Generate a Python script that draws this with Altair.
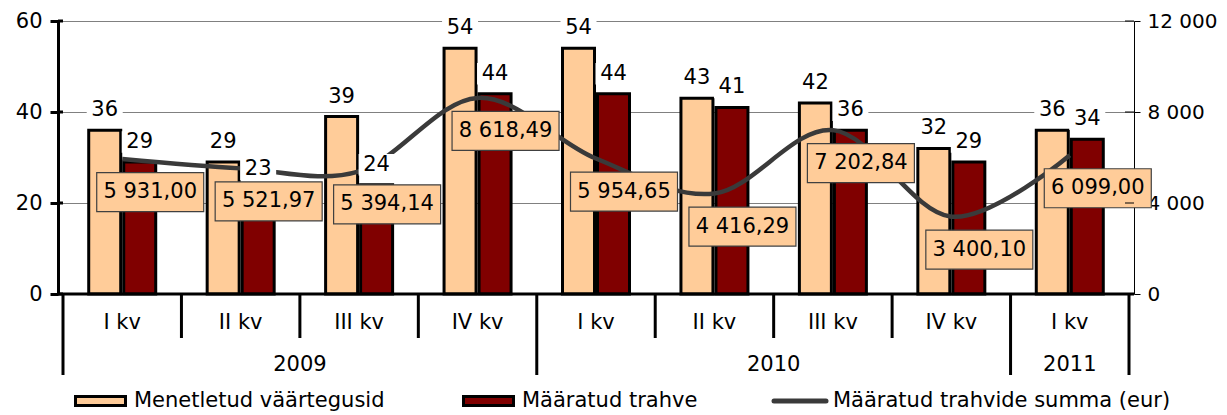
import altair as alt
import pandas as pd

# ---------------- data ----------------
quarters = ["I kv", "II kv", "III kv", "IV kv", "I kv", "II kv", "III kv", "IV kv", "I kv"]
years = ["2009", "2009", "2009", "2009", "2010", "2010", "2010", "2010", "2011"]
menetletud = [36, 29, 39, 54, 54, 43, 42, 32, 36]
maaratud = [29, 23, 24, 44, 44, 41, 36, 29, 34]
summa = [5931.00, 5521.97, 5394.14, 8618.49, 5954.65, 4416.29, 7202.84, 3400.10, 6099.00]
series_names = ["Menetletud väärtegusid", "Määratud trahve", "Määratud trahvide summa (eur)"]
left_ticks = [0, 20, 40, 60]
right_ticks = [0, 4000, 8000, 12000]

# ---------------- styling ----------------
W, H = 1076, 273
PEACH = "#FFCC99"
DARKRED = "#800000"
LINEC = "#3a3a3a"
FONT = "DejaVu Sans"
FS = 21

n = len(quarters)
df = pd.DataFrame({
    "idx": list(range(n)),
    "quarter": quarters,
    "year": years,
    "men": menetletud,
    "maa": maaratud,
    "sum": summa,
})
df["center"] = df["idx"] + 0.5
df["sum_label"] = [f"{v:,.2f}".replace(",", " ").replace(".", ",") for v in summa]

bounds_short, bounds_long = [], []
for b in range(n + 1):
    if b == 0 or b == n or years[b] != years[b - 1]:
        bounds_long.append({"pos": b})
    else:
        bounds_short.append({"pos": b})

year_rows = []
for y in dict.fromkeys(years):
    idxs = [i for i, v in enumerate(years) if v == y]
    year_rows.append({"year": y, "center": (min(idxs) + max(idxs) + 1) / 2})
year_df = pd.DataFrame(year_rows)

xscale = alt.Scale(domain=[0, n], nice=False, zero=False)
yl_scale = alt.Scale(domain=[0, 60], nice=False)
yr_scale = alt.Scale(domain=[0, 12000], nice=False)


def X(field):
    return alt.X(field, scale=xscale, axis=None)


base = alt.Chart(df)
one = alt.Data(values=[{"a": 1}])

RECT_SMALL = "M-1,-0.6L1,-0.6L1,0.6L-1,0.6Z"
RECT_BOX = "M-1,-0.3645L1,-0.3645L1,0.3645L-1,0.3645Z"

bars_men = base.mark_bar(size=32, xOffset=-17.5, fill=PEACH, stroke="black",
                         strokeWidth=3, orient="vertical").encode(
    x=X("center:Q"),
    y=alt.Y("men:Q", scale=yl_scale,
            axis=alt.Axis(orient="left", values=left_ticks, grid=True, gridColor="#808080",
                          gridWidth=1, domainColor="black", domainWidth=3, tickColor="black",
                          tickWidth=3, tickSize=8, labelFont=FONT, labelFontSize=FS,
                          labelColor="black", labelPadding=8, title=None)),
)
bars_maa = base.mark_bar(size=32, xOffset=17.5, fill=DARKRED, stroke="black",
                         strokeWidth=3, orient="vertical").encode(
    x=X("center:Q"),
    y=alt.Y("maa:Q", scale=yl_scale, axis=None),
)

line = base.mark_line(interpolate="cardinal", color=LINEC, strokeWidth=4.5).encode(
    x=X("center:Q"),
    y=alt.Y("sum:Q", scale=yr_scale,
            axis=alt.Axis(orient="right", values=right_ticks,
                          labelExpr="replace(format(datum.value, ','), ',', ' ')",
                          grid=False, domainColor="black", domainWidth=1, tickColor="black",
                          tickWidth=1, tickSize=6, labelFont=FONT, labelFontSize=20,
                          labelColor="black", labelPadding=7, title=None)),
)

def bar_labels(field, off):
    box = base.mark_point(shape=RECT_SMALL, size=36 ** 2, filled=True, fill="white",
                          strokeOpacity=0, opacity=1, xOffset=off, yOffset=-20).encode(
        x=X("center:Q"), y=alt.Y(f"{field}:Q", scale=yl_scale, axis=None))
    txt = base.mark_text(font=FONT, fontSize=21, color="black", baseline="middle",
                         dx=off, dy=-20).encode(
        x=X("center:Q"), y=alt.Y(f"{field}:Q", scale=yl_scale, axis=None),
        text=alt.Text(f"{field}:Q"))
    return [box, txt]

DX, DY = 28, 33
sum_box = base.mark_point(shape=RECT_BOX, size=107 ** 2, filled=True, fill=PEACH,
                          stroke="#404040", strokeWidth=1.2, opacity=1,
                          xOffset=DX, yOffset=DY).encode(
    x=X("center:Q"), y=alt.Y("sum:Q", scale=yr_scale, axis=None))
sum_txt = base.mark_text(font=FONT, fontSize=21, color="black", baseline="middle",
                         dx=DX, dy=DY).encode(
    x=X("center:Q"), y=alt.Y("sum:Q", scale=yr_scale, axis=None), text="sum_label:N")

# axis helpers
x_axis_line = alt.Chart(one).mark_rule(color="black", strokeWidth=3).encode(
    x=alt.value(0), x2=alt.value(W), y=alt.value(H))
left_inner = alt.Chart(pd.DataFrame({"v": left_ticks})).mark_rule(color="black", strokeWidth=3).encode(
    y=alt.Y("v:Q", scale=yl_scale, axis=None), x=alt.value(0), x2=alt.value(5))
right_inner = alt.Chart(pd.DataFrame({"v": right_ticks})).mark_rule(color="black", strokeWidth=1).encode(
    y=alt.Y("v:Q", scale=yr_scale, axis=None), x=alt.value(W - 9), x2=alt.value(W))

sep_short = alt.Chart(pd.DataFrame(bounds_short)).mark_rule(color="black", strokeWidth=3).encode(
    x=X("pos:Q"), y=alt.value(H), y2=alt.value(H + 44))
sep_long = alt.Chart(pd.DataFrame(bounds_long)).mark_rule(color="black", strokeWidth=3).encode(
    x=X("pos:Q"), y=alt.value(H), y2=alt.value(H + 81))

q_labels = base.mark_text(font=FONT, fontSize=FS, color="black", baseline="middle").encode(
    x=X("center:Q"), y=alt.value(H + 29), text="quarter:N")
y_labels = alt.Chart(year_df).mark_text(font=FONT, fontSize=FS, color="black", baseline="middle").encode(
    x=X("center:Q"), y=alt.value(H + 71), text="year:N")

# legend
LY = 380
leg = [
    alt.Chart(one).mark_rect(fill=PEACH, stroke="black", strokeWidth=3).encode(
        x=alt.value(17.5), x2=alt.value(67.5), y=alt.value(LY - 4.5), y2=alt.value(LY + 4.5)),
    alt.Chart(one).mark_text(font=FONT, fontSize=FS, color="black", align="left", baseline="middle").encode(
        x=alt.value(76), y=alt.value(LY), text=alt.value(series_names[0])),
    alt.Chart(one).mark_rect(fill=DARKRED, stroke="black", strokeWidth=3).encode(
        x=alt.value(405.5), x2=alt.value(455.5), y=alt.value(LY - 4.5), y2=alt.value(LY + 4.5)),
    alt.Chart(one).mark_text(font=FONT, fontSize=FS, color="black", align="left", baseline="middle").encode(
        x=alt.value(464), y=alt.value(LY), text=alt.value(series_names[1])),
    alt.Chart(one).mark_rule(color=LINEC, strokeWidth=5, strokeCap="round").encode(
        x=alt.value(716), x2=alt.value(768), y=alt.value(LY)),
    alt.Chart(one).mark_text(font=FONT, fontSize=FS, color="black", align="left", baseline="middle").encode(
        x=alt.value(775), y=alt.value(LY), text=alt.value(series_names[2])),
]

layers = [bars_men, bars_maa, line] + bar_labels("men", -17.5) + bar_labels("maa", 17.5) + \
    [sum_box, sum_txt, x_axis_line, left_inner, right_inner, sep_short, sep_long,
     q_labels, y_labels] + leg

chart = alt.layer(*layers).resolve_scale(y="independent").properties(
    width=W, height=H,
    padding={"left": 50, "top": 13, "right": 85, "bottom": 117},
    autosize=alt.AutoSizeParams(type="none"),
).configure_view(stroke=None)

chart.save("out.html", embed_options={"renderer": "svg", "actions": False})
